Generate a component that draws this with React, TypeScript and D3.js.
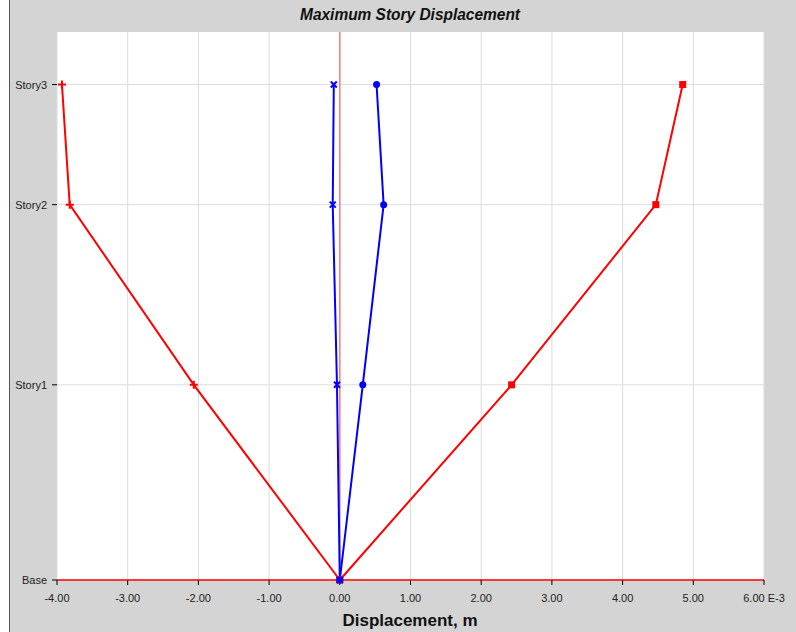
import React from "react";
import * as d3 from "d3";

const stories = ["Base", "Story1", "Story2", "Story3"];
const elevations = [0, 3.9, 7.5, 9.9];
const xTicks = [-4, -3, -2, -1, 0, 1, 2, 3, 4, 5, 6];
const redLeft = [0, -2.065, -3.82, -3.93];
const redRight = [0, 2.43, 4.47, 4.85];
const blueX = [0, -0.04, -0.1, -0.085];
const blueCircle = [0, 0.325, 0.62, 0.52];

const W = 796, H = 632;
const left = 57, right = 764, top = 32, bottom = 580;

export default function App() {
  const x = d3.scaleLinear().domain([-4, 6]).range([left, right]);
  const y = d3.scaleLinear().domain([0, 10.95]).range([bottom, top]);
  const line = (vals: number[]) =>
    d3.line<number>().x((d) => x(d)).y((_, i) => y(elevations[i]))(vals) || "";
  const font = "'Liberation Sans', Arial, sans-serif";

  return (
    <svg width={W} height={H} style={{ position: "absolute", left: 0, top: 0 }}>
      <rect x={0} y={0} width={W} height={H} fill="#fff" />
      <rect x={9} y={0} width={W - 9} height={H} fill="#d4d4d4" />
      <line x1={9.5} y1={0} x2={9.5} y2={H} stroke="#555" strokeWidth={1} />
      <rect x={left} y={top} width={right - left} height={bottom - top} fill="#fff" />
      {xTicks.map((t) => (
        <line key={"gx" + t} x1={x(t)} x2={x(t)} y1={top} y2={bottom} stroke="#dcdcdc" strokeWidth={1} />
      ))}
      {elevations.map((e, i) => (
        <line key={"gy" + i} x1={left} x2={right} y1={y(e)} y2={y(e)} stroke="#dcdcdc" strokeWidth={1} />
      ))}
      <line x1={x(0)} x2={x(0)} y1={top} y2={bottom} stroke="#f08080" strokeWidth={1.5} />
      <line x1={left} x2={right} y1={bottom} y2={bottom} stroke="#ff0000" strokeWidth={1.5} />
      {xTicks.map((t) => (
        <g key={"tx" + t}>
          <line x1={x(t)} x2={x(t)} y1={bottom} y2={bottom + 5} stroke="#000" strokeWidth={1} />
          <text x={x(t)} y={bottom + 22} textAnchor="middle" fontSize={11} fontFamily={font} fill="#222">
            {t.toFixed(2) + (t === 6 ? " E-3" : "")}
          </text>
        </g>
      ))}
      {elevations.map((e, i) => (
        <g key={"ty" + i}>
          <line x1={left - 5} x2={left} y1={y(e)} y2={y(e)} stroke="#000" strokeWidth={1} />
          <text x={left - 10} y={y(e) + 4} textAnchor="end" fontSize={11} fontFamily={font} fill="#222">
            {stories[i]}
          </text>
        </g>
      ))}
      <path d={line(redLeft)} fill="none" stroke="#ff0000" strokeWidth={2} />
      <path d={line(redRight)} fill="none" stroke="#ff0000" strokeWidth={2} />
      <path d={line(blueX)} fill="none" stroke="#0000ff" strokeWidth={2} />
      <path d={line(blueCircle)} fill="none" stroke="#0000ff" strokeWidth={2} />
      {redLeft.map((v, i) => (
        <path key={"pl" + i} d={`M${x(v) - 4},${y(elevations[i])}h8M${x(v)},${y(elevations[i]) - 4}v8`} stroke="#ff0000" strokeWidth={2} />
      ))}
      {redRight.map((v, i) => (
        <rect key={"sq" + i} x={x(v) - 3.5} y={y(elevations[i]) - 3.5} width={7} height={7} fill="#ff0000" />
      ))}
      {blueX.map((v, i) => (
        <path key={"bx" + i} d={`M${x(v) - 3},${y(elevations[i]) - 3}l6,6M${x(v) + 3},${y(elevations[i]) - 3}l-6,6`} stroke="#0000ff" strokeWidth={2} />
      ))}
      {blueCircle.map((v, i) => (
        <circle key={"bc" + i} cx={x(v)} cy={y(elevations[i])} r={3.5} fill="#0000ff" />
      ))}
      <text x={410} y={20} textAnchor="middle" fontSize={16} fontWeight="bold" fontStyle="italic" fontFamily={font} fill="#111" textLength={220} lengthAdjust="spacingAndGlyphs">
        Maximum Story Displacement
      </text>
      <text x={410} y={626} textAnchor="middle" fontSize={17} fontWeight="bold" fontFamily={font} fill="#111">
        Displacement, m
      </text>
    </svg>
  );
}
